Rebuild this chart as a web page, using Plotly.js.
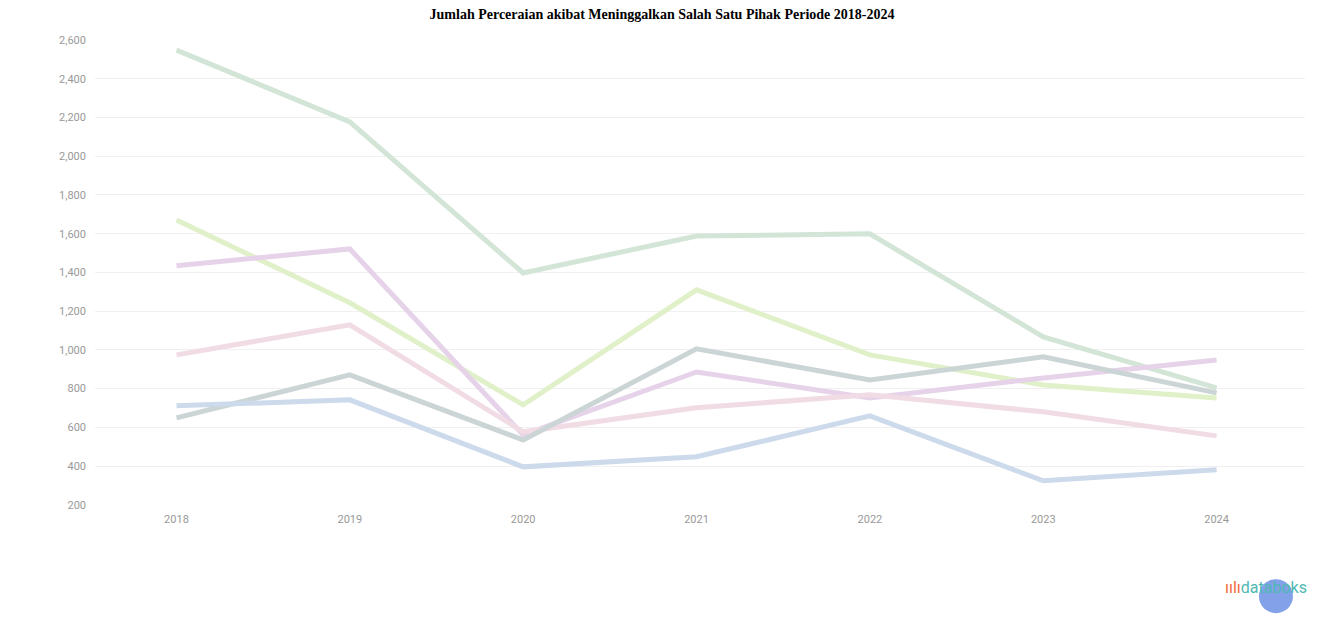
<!DOCTYPE html>
<html>
<head>
<meta charset="utf-8">
<script src="https://cdn.plot.ly/plotly-3.0.1.min.js"></script>
<style>html,body{margin:0;padding:0;background:#fff;}#chart{width:1324px;height:617px;}</style>
</head>
<body>
<div id="chart"></div>
<script>
const years = [2018, 2019, 2020, 2021, 2022, 2023, 2024];
const seriesGreen  = [2548, 2177, 1397, 1588, 1599, 1067, 804];
const seriesLime   = [1671, 1243, 716, 1310, 974, 819, 752];
const seriesPurple = [1434, 1521, 561, 886, 752, 855, 948];
const seriesPink   = [974, 1129, 577, 701, 768, 680, 556];
const seriesGray   = [649, 871, 535, 1005, 845, 964, 778];
const seriesBlue   = [711, 742, 396, 448, 659, 324, 381];
const yTicks = [200, 400, 600, 800, 1000, 1200, 1400, 1600, 1800, 2000, 2200, 2400, 2600];

const defs = [
  [seriesGreen, '#d3e5d7'],
  [seriesLime, '#e0f0c8'],
  [seriesPurple, '#e6d3ea'],
  [seriesPink, '#f1dbe4'],
  [seriesGray, '#ccd5d5'],
  [seriesBlue, '#ccdaec']
];
const traces = defs.map(([vals, color]) => ({
  x: years, y: vals, type: 'scatter', mode: 'lines',
  line: {color: color, width: 5}, hoverinfo: 'skip', showlegend: false
}));

const layout = {
  width: 1324, height: 617,
  margin: {l: 95, r: 19, t: 40, b: 112},
  paper_bgcolor: '#ffffff', plot_bgcolor: '#ffffff',
  title: {text: '<b>Jumlah Perceraian akibat Meninggalkan Salah Satu Pihak Periode 2018-2024</b>',
          font: {family: 'Liberation Serif, Times New Roman, serif', size: 14, color: '#000'},
          x: 0.5, xanchor: 'center', y: 0.985, yanchor: 'top'},
  xaxis: {range: [2017.53, 2024.51], tickvals: years, ticktext: years.map(String),
          showgrid: false, zeroline: false, showline: false, ticks: '', ticklabelstandoff: 6,
          tickfont: {family: 'Roboto, sans-serif', size: 11, color: '#999'}},
  yaxis: {range: [199, 2600], tickvals: yTicks, tickformat: ',d',
          showgrid: true, gridcolor: '#f0f0f0', gridwidth: 1, zeroline: false, showline: false,
          ticks: '', ticklabelstandoff: 8,
          tickfont: {family: 'Roboto, sans-serif', size: 11, color: '#999'}},
  shapes: [
    {type: 'circle', xref: 'paper', yref: 'paper', xsizemode: 'pixel', ysizemode: 'pixel',
     xanchor: 0.976, yanchor: -0.196, x0: -17, x1: 17, y0: -17, y1: 17,
     fillcolor: 'rgba(90,130,225,0.75)', line: {width: 0}, layer: 'above'}
  ],
  annotations: [
    {xref: 'paper', yref: 'paper', x: 1.003, y: -0.178, xanchor: 'right', yanchor: 'middle',
     text: '<span style="color:#f26b3a">ıılı</span>databoks', showarrow: false,
     font: {family: 'Roboto, sans-serif', size: 16, color: '#4fb8b3'}}
  ]
};
Plotly.newPlot('chart', traces, layout, {displayModeBar: false, staticPlot: true});
</script>
</body>
</html>
